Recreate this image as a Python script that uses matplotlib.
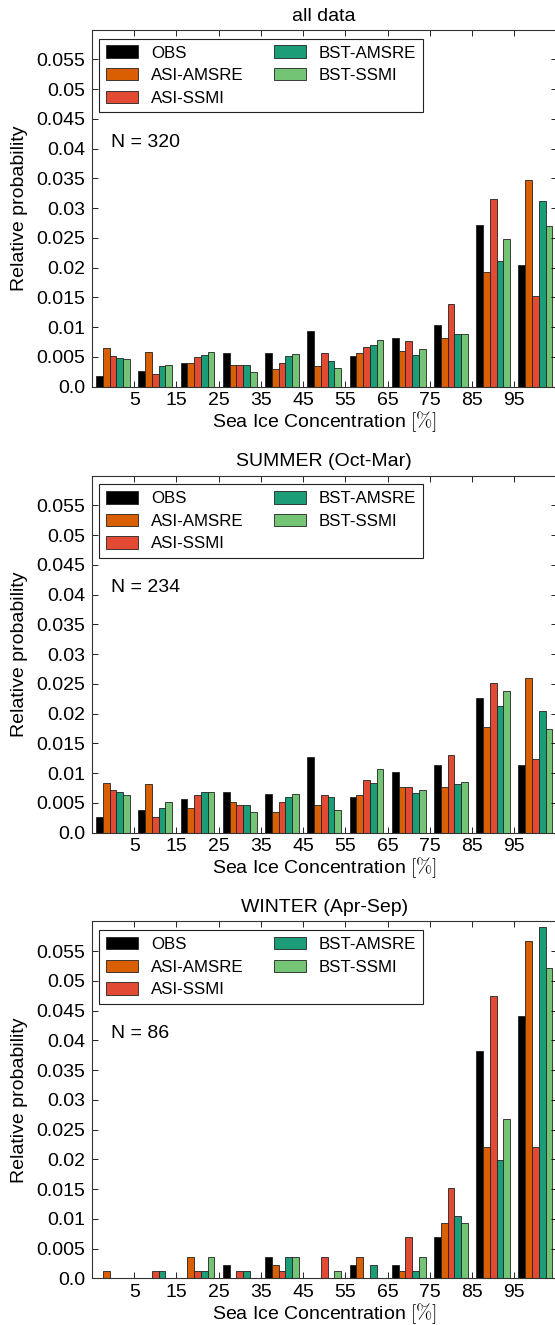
"""Istogrammi della concentrazione di ghiaccio marino: OBS vs prodotti satellitari."""
import matplotlib
matplotlib.use("Agg")
import matplotlib.pyplot as plt
import numpy as np
from matplotlib.ticker import FuncFormatter

plt.rcParams["font.family"] = ["Liberation Sans", "DejaVu Sans"]
plt.rcParams["mathtext.fontset"] = "cm"

# --- dati ---
series = ["OBS", "ASI-AMSRE", "ASI-SSMI", "BST-AMSRE", "BST-SSMI"]
colors = ["#000000", "#d95f02", "#e34a33", "#1b9e77", "#74c476"]
tick_labels = ["5", "15", "25", "35", "45", "55", "65", "75", "85", "95"]
titles = ["all data", "SUMMER (Oct-Mar)", "WINTER (Apr-Sep)"]
n_obs = [320, 234, 86]

all_obs = [0.0018, 0.0027, 0.0040, 0.0056, 0.0056, 0.0094, 0.0051, 0.0082, 0.0104, 0.0271, 0.0205]
all_asi_amsre = [0.0065, 0.0059, 0.0040, 0.0036, 0.0030, 0.0034, 0.0057, 0.0060, 0.0082, 0.0193, 0.0347]
all_asi_ssmi = [0.0052, 0.0021, 0.0050, 0.0036, 0.0040, 0.0057, 0.0066, 0.0076, 0.0139, 0.0315, 0.0152]
all_bst_amsre = [0.0049, 0.0034, 0.0053, 0.0036, 0.0052, 0.0044, 0.0070, 0.0053, 0.0089, 0.0211, 0.0312]
all_bst_ssmi = [0.0046, 0.0037, 0.0059, 0.0024, 0.0055, 0.0031, 0.0079, 0.0063, 0.0089, 0.0249, 0.0270]

summer_obs = [0.0026, 0.0038, 0.0056, 0.0068, 0.0064, 0.0127, 0.0059, 0.0102, 0.0114, 0.0226, 0.0114]
summer_asi_amsre = [0.0084, 0.0081, 0.0042, 0.0051, 0.0034, 0.0047, 0.0063, 0.0076, 0.0076, 0.0178, 0.0259]
summer_asi_ssmi = [0.0072, 0.0026, 0.0063, 0.0047, 0.0051, 0.0063, 0.0089, 0.0076, 0.0131, 0.0251, 0.0123]
summer_bst_amsre = [0.0068, 0.0042, 0.0068, 0.0047, 0.0059, 0.0059, 0.0084, 0.0067, 0.0081, 0.0212, 0.0204]
summer_bst_ssmi = [0.0063, 0.0051, 0.0068, 0.0034, 0.0064, 0.0037, 0.0106, 0.0072, 0.0085, 0.0238, 0.0174]

winter_obs = [0.0, 0.0, 0.0, 0.0023, 0.0035, 0.0, 0.0023, 0.0023, 0.0070, 0.0382, 0.0441]
winter_asi_amsre = [0.0012, 0.0, 0.0035, 0.0, 0.0023, 0.0, 0.0035, 0.0012, 0.0093, 0.0221, 0.0567]
winter_asi_ssmi = [0.0, 0.0012, 0.0012, 0.0012, 0.0012, 0.0035, 0.0, 0.0070, 0.0151, 0.0474, 0.0221]
winter_bst_amsre = [0.0, 0.0012, 0.0012, 0.0012, 0.0035, 0.0, 0.0023, 0.0012, 0.0105, 0.0198, 0.0591]
winter_bst_ssmi = [0.0, 0.0, 0.0035, 0.0, 0.0035, 0.0012, 0.0, 0.0035, 0.0093, 0.0267, 0.0521]

panels = [
    [all_obs, all_asi_amsre, all_asi_ssmi, all_bst_amsre, all_bst_ssmi],
    [summer_obs, summer_asi_amsre, summer_asi_ssmi, summer_bst_amsre, summer_bst_ssmi],
    [winter_obs, winter_asi_amsre, winter_asi_ssmi, winter_bst_amsre, winter_bst_ssmi],
]

# --- layout (pixel -> frazione di figura) ---
W, H = 555, 1325
ax_left, ax_width = 92 / W, 464.5 / W
ax_height = 357 / H
ax_bottoms = [(H - 386.7) / H, (H - 832.5) / H, (H - 1278.3) / H]

bar_w = 1.6
bin_start = np.arange(11) * 10 + 1.0


def fmt_y(v, _pos):
    return "0.0" if abs(v) < 1e-12 else "%g" % v


def draw_panel(ax, values, title, n):
    for j, (name, col, vals) in enumerate(zip(series, colors, values)):
        ax.bar(bin_start + j * bar_w, vals, width=bar_w, align="edge",
               color=col, edgecolor="#222222", linewidth=0.6, label=name)
    ax.set_xlim(0, 110)
    ax.set_ylim(0, 0.06)
    ax.set_xticks(np.arange(10, 101, 10))
    ax.set_xticklabels(tick_labels)
    ax.set_yticks(np.arange(0, 0.0551, 0.005))
    ax.yaxis.set_major_formatter(FuncFormatter(fmt_y))
    ax.tick_params(direction="in", top=True, right=True, length=4,
                   width=0.6, labelsize=14, pad=5)
    ax.tick_params(axis="x", pad=4)
    for sp in ax.spines.values():
        sp.set_linewidth(0.8)
        sp.set_color("#333333")
    ax.set_title(title, fontsize=14, pad=6.5)
    ax.set_xlabel(r"Sea Ice Concentration $[\%]$", fontsize=14, labelpad=0)
    ax.set_ylabel("Relative probability", fontsize=14)
    ax.yaxis.set_label_coords(-0.138, 0.5)
    ax.text(0.041, 0.685, "N = %d" % n, transform=ax.transAxes,
            fontsize=14, ha="left", va="center")
    leg = ax.legend(loc="upper left", bbox_to_anchor=(0.0157, 0.975),
                    borderaxespad=0, ncol=2, fontsize=12.2, fancybox=False,
                    framealpha=1, edgecolor="#222222", handlelength=1.9,
                    handleheight=0.75, handletextpad=0.75, columnspacing=1.8,
                    labelspacing=0.44, borderpad=0.4)
    leg.get_frame().set_linewidth(0.8)


fig = plt.figure(figsize=(W / 100, H / 100), dpi=100)
for k in range(3):
    ax = fig.add_axes([ax_left, ax_bottoms[k], ax_width, ax_height])
    draw_panel(ax, panels[k], titles[k], n_obs[k])

fig.savefig("out.png", dpi=100)
